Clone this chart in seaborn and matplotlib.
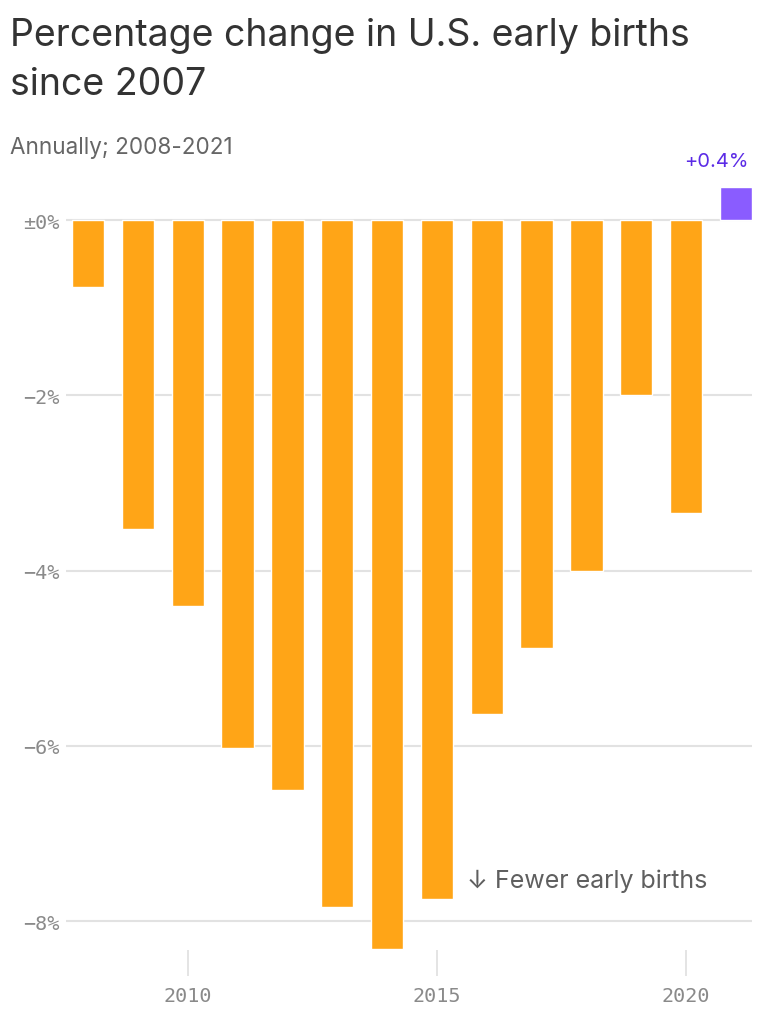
import pandas as pd
import matplotlib.pyplot as plt
import seaborn as sns

# Data
years = [2008, 2009, 2010, 2011, 2012, 2013, 2014, 2015, 2016, 2017, 2018, 2019, 2020, 2021]
pct_change = [-0.76, -3.53, -4.40, -6.02, -6.50, -7.84, -8.32, -7.75, -5.64, -4.88, -4.01, -2.00, -3.34, 0.38]
y_ticks = [0, -2, -4, -6, -8]
y_tick_labels = ["±0%", "−2%", "−4%", "−6%", "−8%"]
x_ticks = [2010, 2015, 2020]

ORANGE = "#FFA517"
PURPLE = "#8A5CFF"
PURPLE_TEXT = "#5B2BE6"
GRID = "#E2E2E2"


def main():
    df = pd.DataFrame({"year": years, "change": pct_change})
    df["sign"] = ["up" if v > 0 else "down" for v in df["change"]]

    sns.set_style("white")
    plt.rcParams["font.family"] = ["Inter", "DejaVu Sans"]

    fig = plt.figure(figsize=(7.7, 10.2), dpi=100)
    ax = fig.add_axes([0.086, 0.0676, 0.891, 0.75])

    sns.barplot(data=df, x="year", y="change", hue="sign",
                palette={"up": PURPLE, "down": ORANGE}, native_scale=True,
                dodge=False, width=0.65, legend=False, saturation=1, ax=ax,
                zorder=3)

    ax.set_xlim(2007.56, 2021.33)
    ax.set_ylim(-8.33, 0.4)
    ax.set_xlabel("")
    ax.set_ylabel("")

    for s in ax.spines.values():
        s.set_visible(False)

    ax.set_yticks(y_ticks)
    ax.set_yticklabels(y_tick_labels)
    ax.yaxis.grid(True, color=GRID, linewidth=1.5, zorder=0)
    ax.set_axisbelow(True)
    ax.set_xticks(x_ticks)
    ax.set_xticklabels([str(x) for x in x_ticks])
    ax.tick_params(axis="y", length=0, pad=5, labelsize=14.5, labelcolor="#8a8a8a")
    ax.tick_params(axis="x", bottom=True, length=19, width=1.3, color=GRID, pad=7,
                   labelsize=14.5, labelcolor="#8a8a8a")
    for lab in ax.get_xticklabels() + ax.get_yticklabels():
        lab.set_family("DejaVu Sans Mono")

    # label for the last (positive) bar
    ax.text(years[-1] + 0.25, pct_change[-1] + 0.3, "+0.4%", ha="right", va="center",
            fontsize=14.5, color=PURPLE_TEXT)

    ax.text(2015.6, -7.53, "↓ Fewer early births", ha="left", va="center",
            fontsize=18, color="#5f5f5f")

    fig.text(0.013, 0.982, "Percentage change in U.S. early births\nsince 2007",
             ha="left", va="top", fontsize=27, color="#333333", linespacing=1.45)
    fig.text(0.013, 0.855, "Annually; 2008-2021", ha="left", va="center",
             fontsize=16.2, color="#666666")

    fig.savefig("out.png", dpi=100)


if __name__ == "__main__":
    main()
